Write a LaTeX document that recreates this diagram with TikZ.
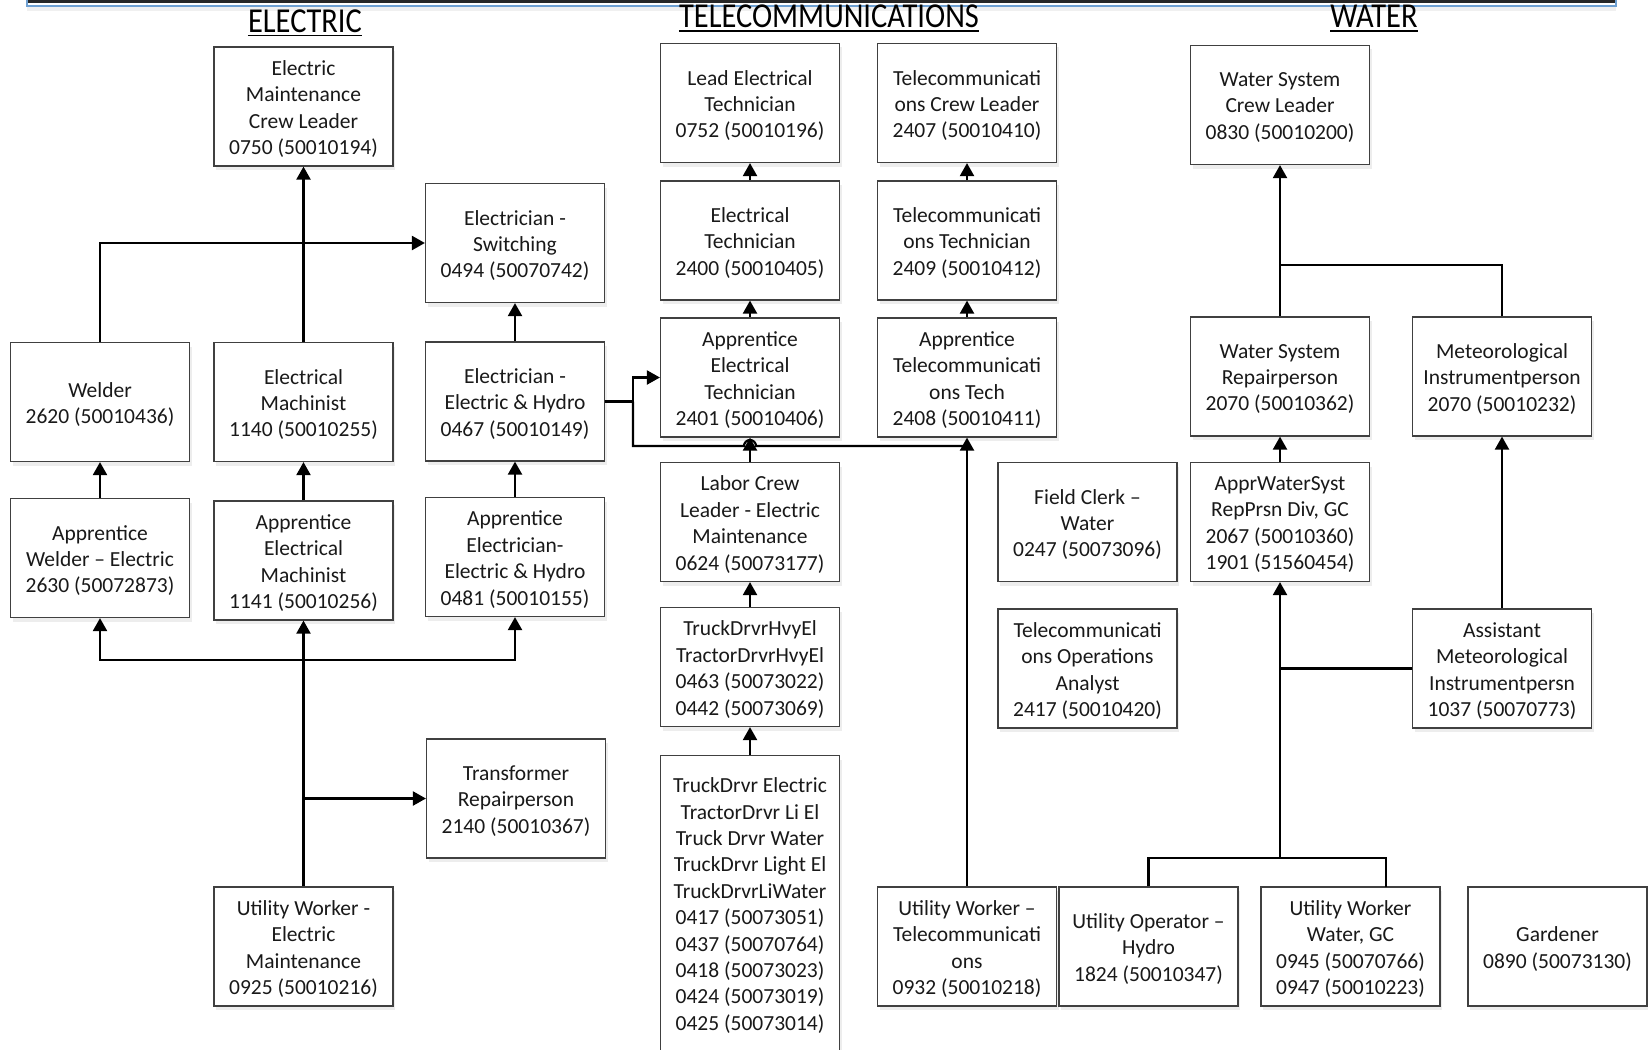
\documentclass[tikz,border=0pt]{standalone}
\usepackage{fontspec}
\setmainfont{Carlito}
\newfontfamily\headfont{Carlito}[FakeStretch=0.87]
\usetikzlibrary{arrows.meta,shadows}
\definecolor{topblue}{RGB}{110,160,210}
\newcommand\jb[4]{\node[box] (#1) at (#2,#3) {}; \node[txt] (#1t) at ([yshift=-2.5pt]#1.center) {#4};}
\begin{document}
\begin{tikzpicture}[x=1pt,y=-1pt,
  box/.style={draw=black!75, line width=1.2pt, fill=white, minimum width=179pt, minimum height=119pt,
    inner sep=0pt, drop shadow={shadow xshift=2pt, shadow yshift=-4pt, fill=black, opacity=0.07}},
  txt/.style={inner sep=0pt, align=center, font=\fontsize{21.5}{26.4}\selectfont, text=black!90},
  arr/.style={line width=2.2pt, -{Triangle[width=14pt,length=13pt]}},
  ln/.style={line width=2.2pt},
  head/.style={font=\headfont\fontsize{35}{40}\selectfont, inner sep=0pt, anchor=base},
  uline/.style={line width=1.8pt}
]
\useasboundingbox (0,0) rectangle (1648,1049);

% top border
\fill[black!85] (27,0) rectangle (1616,3.5);
\draw[topblue, line width=1.5pt] (27,-3) -- (27,6) -- (1616,6) -- (1616,-3);
\fill[black!6] (27,7) rectangle (1616,11);

% headings
\node[head] (hel) at (305,32.5) {ELECTRIC};
\node[head] (htc) at (829,28) {TELECOMMUNICATIONS};
\node[head] (hwa) at (1374,28) {WATER};
\draw[uline] ([yshift=-3pt]hel.base west) -- ([yshift=-3pt]hel.base east);
\draw[uline] ([yshift=-3pt]htc.base west) -- ([yshift=-3pt]htc.base east);
\draw[uline] ([yshift=-3pt]hwa.base west) -- ([yshift=-3pt]hwa.base east);

% ELECTRIC
\jb{emcl}{303.5}{106.5}{Electric\\Maintenance\\Crew Leader\\0750 (50010194)}
\jb{es}{515}{243}{Electrician -\\Switching\\0494 (50070742)}
\jb{wel}{100}{402}{Welder\\2620 (50010436)}
\jb{em}{303.5}{402}{Electrical\\Machinist\\1140 (50010255)}
\jb{eeh}{515}{401.5}{Electrician -\\Electric \& Hydro\\0467 (50010149)}
\jb{aw}{100}{558}{Apprentice\\Welder – Electric\\2630 (50072873)}
\jb{aem}{303.5}{560.5}{Apprentice\\Electrical\\Machinist\\1141 (50010256)}
\jb{ae}{515}{557}{Apprentice\\Electrician-\\Electric \& Hydro\\0481 (50010155)}
\jb{tr}{516}{798.5}{Transformer\\Repairperson\\2140 (50010367)}
\jb{uwe}{303.5}{946.5}{Utility Worker -\\Electric\\Maintenance\\0925 (50010216)}

% TELECOMMUNICATIONS
\jb{let}{750}{103}{Lead Electrical\\Technician\\0752 (50010196)}
\jb{tcl}{967}{103}{Telecommunicati\\ons Crew Leader\\2407 (50010410)}
\jb{et}{750}{240.5}{Electrical\\Technician\\2400 (50010405)}
\jb{tt}{967}{240.5}{Telecommunicati\\ons Technician\\2409 (50010412)}
\jb{aet}{750}{377.5}{Apprentice\\Electrical\\Technician\\2401 (50010406)}
\jb{atn}{967}{377.5}{Apprentice\\Telecommunicati\\ons Tech\\2408 (50010411)}
\jb{lab}{750}{522}{Labor Crew\\Leader - Electric\\Maintenance\\0624 (50073177)}
\jb{hvy}{750}{667}{TruckDrvrHvyEl\\TractorDrvrHvyEl\\0463 (50073022)\\0442 (50073069)}
\node[box, minimum height=298pt, anchor=north] (trk) at (750,755) {};
\node[txt] (trkt) at ([yshift=-1pt]trk.center) {TruckDrvr Electric\\TractorDrvr Li El\\Truck Drvr Water\\TruckDrvr Light El\\TruckDrvrLiWater\\0417 (50073051)\\0437 (50070764)\\0418 (50073023)\\0424 (50073019)\\0425 (50073014)};
\jb{uwt}{967}{946.5}{Utility Worker –\\Telecommunicati\\ons\\0932 (50010218)}
\jb{fc}{1087.5}{522}{Field Clerk –\\Water\\0247 (50073096)}
\jb{toa}{1087.5}{668.5}{Telecommunicati\\ons Operations\\Analyst\\2417 (50010420)}

% WATER
\jb{wscl}{1280}{105}{Water System\\Crew Leader\\0830 (50010200)}
\jb{wsr}{1280}{376.5}{Water System\\Repairperson\\2070 (50010362)}
\jb{mip}{1502}{376.5}{Meteorological\\Instrumentperson\\2070 (50010232)}
\jb{awr}{1280}{522}{ApprWaterSyst\\RepPrsn Div, GC\\2067 (50010360)\\1901 (51560454)}
\jb{ami}{1502}{668.5}{Assistant\\Meteorological\\Instrumentpersn\\1037 (50070773)}
\jb{uoh}{1148.5}{946.5}{Utility Operator –\\Hydro\\1824 (50010347)}
\jb{uwg}{1350.5}{946.5}{Utility Worker\\Water, GC\\0945 (50070766)\\0947 (50010223)}
\jb{gar}{1557.5}{946.5}{Gardener\\0890 (50073130)}

% ELECTRIC connectors
\coordinate (j1) at (303.5,660);
\coordinate (j2) at (303.5,798.5);
\draw[arr] (uwe.north) -- (aem.south);
\draw[arr] (j1) -| (aw.south);
\draw[arr] (j1) -| (ae.south);
\draw[arr] (j2) -- (tr.west);
\draw[arr] (aw.north) -- (wel.south);
\draw[arr] (aem.north) -- (em.south);
\draw[arr] (ae.north) -- (eeh.south);
\draw[arr] (em.north) -- (emcl.south);
\draw[arr] (wel.north) |- (es.west);
\draw[arr] (eeh.north) -- (es.south);
\coordinate (j3) at (633,401.5);
\coordinate (j4) at (633,446);
\coordinate (h1) at (744,446);
\coordinate (j5) at (967,446);
\draw[arr] (eeh.east) -- (j3) |- (aet.west);
\draw[ln] (j3) -- (j4) -- (h1) arc[start angle=180,end angle=360,radius=6] -- (j5);

% TELECOM connectors
\draw[arr] (uwt.north) -- (atn.south);
\draw[arr] (lab.north) -- (aet.south);
\draw[arr] (hvy.north) -- (lab.south);
\draw[arr] (trk.north) -- (hvy.south);
\draw[arr] (aet.north) -- (et.south);
\draw[arr] (et.north) -- (let.south);
\draw[arr] (atn.north) -- (tt.south);
\draw[arr] (tt.north) -- (tcl.south);

% WATER connectors
\coordinate (w1) at (1280,265);
\coordinate (w2) at (1280,668.5);
\coordinate (w3) at (1280,858);
\coordinate (w4) at (1386,887);
\draw[arr] (wsr.north) -- (wscl.south);
\draw[line width=1.5pt] (mip.north) |- (w1);
\draw[arr] (awr.north) -- (wsr.south);
\draw[arr] (ami.north) -- (mip.south);
\draw[ln] (ami.west) -- (w2);
\draw[arr] (w3) -- (awr.south);
\draw[ln] (uoh.north) |- (w3) -| (w4);
\end{tikzpicture}
\end{document}
